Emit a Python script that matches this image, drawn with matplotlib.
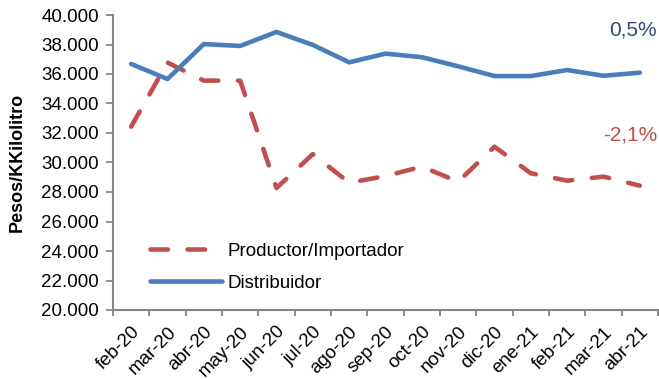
import matplotlib
matplotlib.use("Agg")
import matplotlib.pyplot as plt
import numpy as np

plt.rcParams['font.family'] = ['Liberation Sans', 'DejaVu Sans']

months = ["feb-20", "mar-20", "abr-20", "may-20", "jun-20", "jul-20", "ago-20",
          "sep-20", "oct-20", "nov-20", "dic-20", "ene-21", "feb-21", "mar-21", "abr-21"]
productor = [32430, 36780, 35550, 35550, 28270, 30570, 28630,
             29080, 29720, 28700, 31070, 29270, 28770, 29040, 28430]
distribuidor = [36680, 35660, 38030, 37900, 38850, 37970, 36790,
                37380, 37140, 36520, 35860, 35860, 36270, 35880, 36090]
yticks = [20000, 22000, 24000, 26000, 28000, 30000, 32000, 34000, 36000, 38000, 40000]
var_dist = "0,5%"
var_prod = "-2,1%"

BLUE = "#4A7EBB"
RED = "#C0504D"
GRAY = "#868686"
FS = 13.5

fig = plt.figure(figsize=(6.59, 3.79), dpi=100)
ax = fig.add_axes([113 / 659, 1 - 310 / 379, (658 - 113) / 659, (310 - 15) / 379])

x = np.arange(len(months))
ax.plot(x, productor, color=RED, lw=3.3, dashes=(3.8, 4.3), dash_capstyle='round',
        label="Productor/Importador")
ax.plot(x, distribuidor, color=BLUE, lw=3.3, solid_capstyle='round', solid_joinstyle='round',
        label="Distribuidor")

ax.set_xlim(-0.5, len(months) - 0.5)
ax.set_ylim(20000, 40000)
ax.set_yticks(yticks)
ax.set_yticklabels([f"{v:,}".replace(",", ".") for v in yticks], fontsize=FS)

# category boundaries carry the tick marks, centres carry the labels
ax.set_xticks(np.arange(len(months) + 1) - 0.5)
ax.set_xticklabels([])
ax.set_xticks(x, minor=True)
ax.set_xticklabels(months, minor=True, rotation=45, ha='right', rotation_mode='anchor', fontsize=FS)
ax.tick_params(axis='x', which='minor', length=0, pad=9.5)
ax.tick_params(axis='x', which='major', length=4, color=GRAY, width=1.3)
ax.tick_params(axis='y', length=5, color=GRAY, width=1.3, pad=5)

for s in ["top", "right"]:
    ax.spines[s].set_visible(False)
for s in ["left", "bottom"]:
    ax.spines[s].set_color(GRAY)
    ax.spines[s].set_linewidth(1.5)

ax.set_ylabel("Pesos/KKilolitro", fontsize=13, fontweight='bold')
ax.yaxis.set_label_coords(26 / 659, 1 - 162.5 / 379, transform=fig.transFigure)

leg = ax.legend(loc='center left', bbox_to_anchor=(150 / 659, 1 - 267 / 379),
                bbox_transform=fig.transFigure, frameon=False, fontsize=FS,
                borderpad=0, borderaxespad=0,
                handlelength=3.85, handletextpad=0.27, labelspacing=0.8)

fig.text(657 / 659, 1 - 30 / 379, var_dist, ha='right', va='center', fontsize=15, color="#2E4A75")
fig.text(657 / 659, 1 - 135 / 379, var_prod, ha='right', va='center', fontsize=15, color=RED)

fig.savefig("out.png", dpi=100)
